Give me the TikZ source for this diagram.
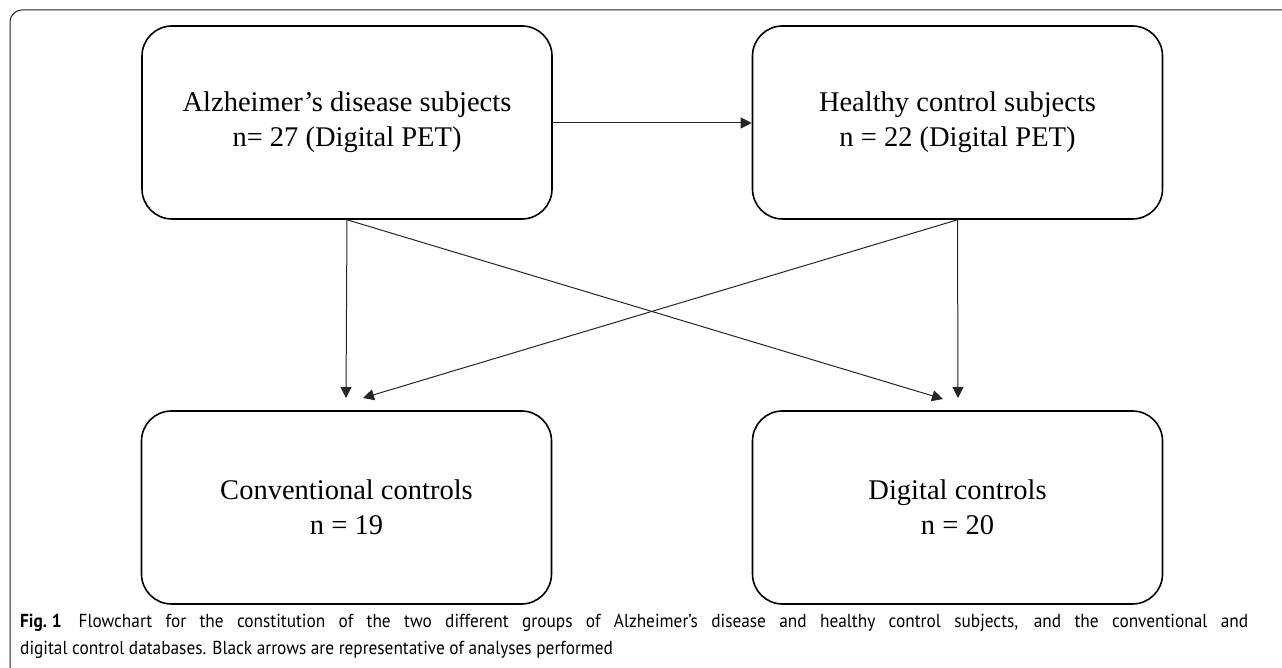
\documentclass[tikz,border=0pt]{standalone}
\usepackage{fontspec}
\setmainfont{Liberation Serif}
\newfontfamily\capfont[FakeStretch=0.92]{PT Sans}
\usetikzlibrary{arrows.meta}
\begin{document}
\begin{tikzpicture}[x=1pt,y=1pt,
  flowbox/.style={draw=black, line width=1.6pt, rounded corners=30pt, minimum width=410pt, minimum height=193pt, align=center, inner sep=0pt, font=\fontsize{28.5}{35}\selectfont},
  conn/.style={draw=black!85, line width=1pt, -{Triangle[length=11pt,width=11pt]}},
  frameline/.style={draw=black!85, line width=1pt},
  captext/.style={anchor=base west, inner sep=0pt, font=\capfont\fontsize{18.8}{22}\selectfont}]
\useasboundingbox (0,0) rectangle (1282,668);
\fill[white] (0,0) rectangle (1282,668);
\begin{scope}
\clip (0,0) rectangle (1282,668);
\draw[frameline, rounded corners=12pt] (10,-20) -- (10,658) -- (1300,658);
\end{scope}
\node[flowbox] (ad) at (347,545.5) {Alzheimer’s disease subjects\\n= 27 (Digital PET)};
\node[flowbox] (hc) at (957.5,545.5) {Healthy control subjects\\n = 22 (Digital PET)};
\node[flowbox] (cc) at (346.5,160.5) {Conventional controls\\n = 19};
\node[flowbox] (dc) at (957.5,160.5) {Digital controls\\n = 20};
\coordinate (ccin) at (346,270);
\coordinate (ccin2) at (363,270);
\coordinate (dcin) at (943,269);
\coordinate (dcin2) at (958,270);
\draw[conn] (ad.east |- 0,545) -- (hc.west |- 0,545);
\draw[conn] (ad.south) -- (ccin);
\draw[conn] (ad.south) -- (dcin);
\draw[conn] (hc.south) -- (dcin2);
\draw[conn] (hc.south) -- (ccin2);
\node[captext] (cap1) at (20,40) {\makebox[1228pt][s]{\mbox{\textbf{Fig.\kern0.25em1}}\hspace{0.9em}Flowchart for the constitution of the two different groups of Alzheimer’s disease and healthy control subjects, and the conventional and}};
\node[captext] (cap2) at (20,13) {digital control databases. Black arrows are representative of analyses performed};
\end{tikzpicture}
\end{document}
